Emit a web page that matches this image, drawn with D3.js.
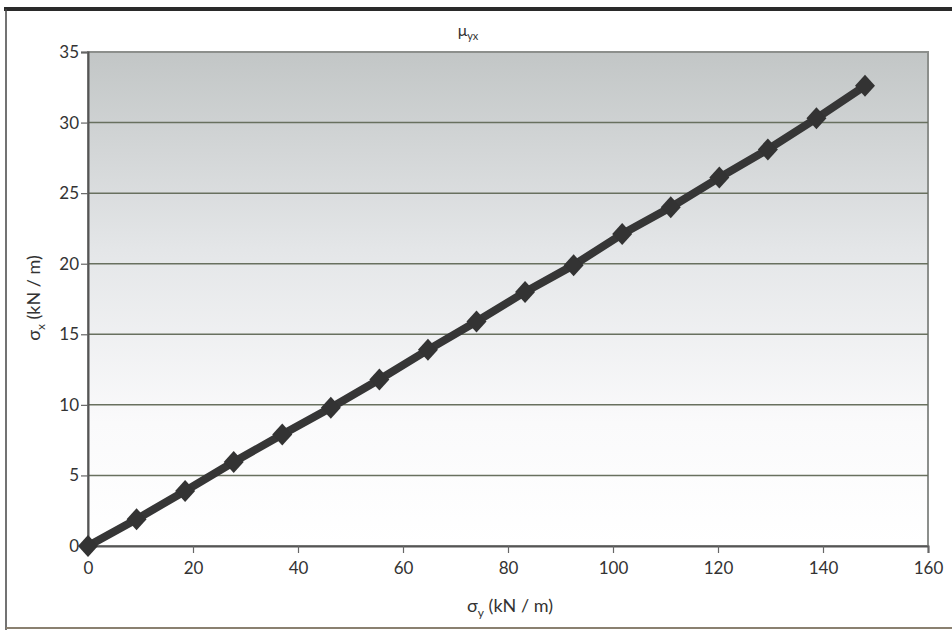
<!DOCTYPE html>
<html>
<head>
<meta charset="utf-8">
<script src="https://cdn.jsdelivr.net/npm/d3@7"></script>
<style>
  body { margin: 0; background: #fff; }
  svg text { font-family: "Lato", "DejaVu Sans", sans-serif; fill: #333; }
</style>
</head>
<body>
<svg id="chart" width="952" height="630"></svg>
<script>
// sigma_y values (kN / m)
const sigmaY = [0, 9.25, 18.5, 27.75, 37, 46.25, 55.5, 64.75, 74, 83.25, 92.5, 101.75, 111, 120.25, 129.5, 138.75, 148];
// sigma_x values (kN / m)
const sigmaX = [0, 1.9, 3.9, 5.95, 7.9, 9.8, 11.8, 13.9, 15.9, 18.0, 19.9, 22.1, 24.0, 26.1, 28.1, 30.3, 32.6];
const xTicks = [0, 20, 40, 60, 80, 100, 120, 140, 160];
const yTicks = [0, 5, 10, 15, 20, 25, 30, 35];

const svg = d3.select("#chart");
const margin = { left: 88, right: 24, top: 52, bottom: 84 };
const width = 952 - margin.left - margin.right;
const height = 630 - margin.top - margin.bottom;

const xScale = d3.scaleLinear().domain([0, 160]).range([0, width]);
const yScale = d3.scaleLinear().domain([0, 35]).range([height, 0]);

// outer frame
svg.append("line").attr("x1", 4).attr("x2", 952).attr("y1", 9).attr("y2", 9)
  .attr("stroke", "#2a2a2a").attr("stroke-width", 4);
svg.append("line").attr("x1", 6).attr("x2", 6).attr("y1", 9).attr("y2", 630)
  .attr("stroke", "#444").attr("stroke-width", 1.5);
svg.append("line").attr("x1", 6).attr("x2", 952).attr("y1", 628).attr("y2", 628)
  .attr("stroke", "#8a8070").attr("stroke-width", 2);

// background gradient for plot area
const defs = svg.append("defs");
defs.append("linearGradient")
  .attr("id", "bg-gradient")
  .attr("x1", 0).attr("y1", 0).attr("x2", 0).attr("y2", 1)
  .selectAll("stop")
  .data([
    { offset: "0%", color: "#c2c6c6" },
    { offset: "40%", color: "#e4e6e8" },
    { offset: "75%", color: "#fafafb" },
    { offset: "100%", color: "#ffffff" }
  ])
  .enter().append("stop")
  .attr("offset", d => d.offset)
  .attr("stop-color", d => d.color);

const g = svg.append("g").attr("transform", `translate(${margin.left},${margin.top})`);

g.append("rect")
  .attr("width", width).attr("height", height)
  .attr("fill", "url(#bg-gradient)")
  .attr("stroke", "#8c8f8c").attr("stroke-width", 2);

// gridlines
g.selectAll(".grid")
  .data(yTicks.filter(d => d > 0 && d < 35))
  .enter().append("line")
  .attr("x1", 0).attr("x2", width)
  .attr("y1", d => yScale(d)).attr("y2", d => yScale(d))
  .attr("stroke", "#68705f").attr("stroke-width", 1.5);

// axes
const yAxis = d3.axisLeft(yScale).tickValues(yTicks).tickSize(7).tickPadding(2);
const xAxis = d3.axisBottom(xScale).tickValues(xTicks).tickSize(7).tickPadding(9);

const gy = g.append("g").call(yAxis);
const gx = g.append("g").attr("transform", `translate(0,${height})`).call(xAxis);
[gx, gy].forEach(a => {
  a.select(".domain").attr("stroke", "#555").attr("stroke-width", 2);
  a.selectAll(".tick line").attr("stroke", "#666").attr("stroke-width", 1.2);
  a.selectAll(".tick text").style("font-size", "17px").attr("fill", "#333");
});

// series line
const line = d3.line()
  .x((d, i) => xScale(sigmaY[i]))
  .y(d => yScale(d));

g.append("path")
  .datum(sigmaX)
  .attr("d", line)
  .attr("fill", "none")
  .attr("stroke", "#363636")
  .attr("stroke-width", 8)
  .attr("stroke-linejoin", "round");

// diamond markers
g.selectAll(".marker")
  .data(sigmaX)
  .enter().append("path")
  .attr("transform", (d, i) => `translate(${xScale(sigmaY[i])},${yScale(d)})`)
  .attr("d", "M0,-11L10,0L0,11L-10,0Z")
  .attr("fill", "#333");

// title
svg.append("text")
  .attr("x", 468).attr("y", 36)
  .attr("text-anchor", "middle")
  .style("font-size", "16px")
  .text("μ")
  .append("tspan").attr("dy", 4).style("font-size", "11px").text("yx");

// axis titles
const xt = svg.append("text")
  .attr("x", 510).attr("y", 612)
  .attr("text-anchor", "middle")
  .style("font-size", "18px");
xt.append("tspan").text("σ");
xt.append("tspan").attr("dy", 5).style("font-size", "12px").text("y");
xt.append("tspan").attr("dy", -5).text(" (kN / m)");

const yt = svg.append("text")
  .attr("transform", "translate(40,298) rotate(-90)")
  .attr("text-anchor", "middle")
  .style("font-size", "18px");
yt.append("tspan").text("σ");
yt.append("tspan").attr("dy", 5).style("font-size", "12px").text("x");
yt.append("tspan").attr("dy", -5).text(" (kN / m)");
</script>
</body>
</html>
